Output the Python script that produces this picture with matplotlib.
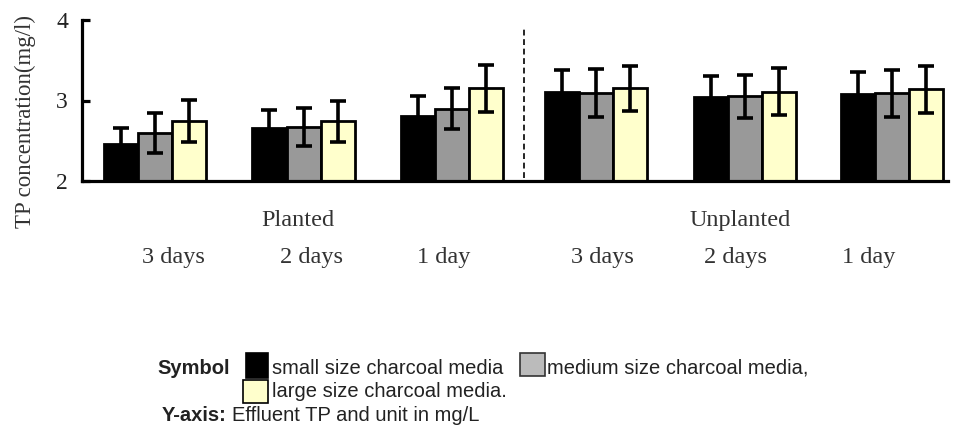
import matplotlib
matplotlib.use("Agg")
import matplotlib.pyplot as plt
from matplotlib.patches import Rectangle

# effluent TP (mg/l) per retention time, planted then unplanted beds
day_labels = ['3 days', '2 days', '1 day', '3 days', '2 days', '1 day']
bed_labels = ['Planted', 'Unplanted']

small = [2.46, 2.66, 2.81, 3.11, 3.04, 3.08]
small_err = [0.20, 0.22, 0.24, 0.27, 0.26, 0.27]
medium = [2.60, 2.67, 2.90, 3.09, 3.05, 3.09]
medium_err = [0.25, 0.24, 0.25, 0.30, 0.27, 0.29]
large = [2.75, 2.74, 3.15, 3.15, 3.11, 3.14]
large_err = [0.26, 0.26, 0.29, 0.28, 0.29, 0.29]

W, H = 958, 429
serif = 'Liberation Serif'
sans = 'Liberation Sans'


def fx(px):
    return px / W


def fy(py):
    return 1 - py / H


fig = plt.figure(figsize=(W / 100, H / 100), dpi=100)
ax = fig.add_axes([fx(82), fy(181), fx(948) - fx(82), fy(20) - fy(181)])

centers = [0, 1, 2, 2.97, 3.97, 4.96]
bw = 0.229
series = [(small, small_err, '#000000'),
          (medium, medium_err, '#999999'),
          (large, large_err, '#FFFFCC')]
for i, (vals, errs, col) in enumerate(series):
    xs = [c + (i - 1) * bw for c in centers]
    ax.bar(xs, vals, width=bw, color=col, edgecolor='black', linewidth=2.0, zorder=2)
    ax.errorbar(xs, vals, yerr=errs, fmt='none', ecolor='black', elinewidth=2.6,
                capsize=5.5, capthick=2.6, zorder=3)

# divider between planted and unplanted beds
ax.axvline(2.485, ymin=0.02, ymax=0.957, color='black', linewidth=1.2,
           dashes=(3.5, 2.2), zorder=1)

ax.set_xlim(-0.4916, 5.34)
ax.set_ylim(2, 4)
ax.set_yticks([2, 3, 4])
ax.set_xticks([])
for s in ['top', 'right']:
    ax.spines[s].set_visible(False)
for s in ['left', 'bottom']:
    ax.spines[s].set_linewidth(2.3)
ax.tick_params(axis='y', direction='in', length=6, width=2.3, pad=10,
               labelsize=17, labelfontfamily=serif, labelcolor='#222222')

fig.text(fx(25), fy(122), 'TP concentration(mg/l)', rotation=90, ha='center',
         va='center', fontsize=16.5, family=serif, color='#333333')

# group and retention-time labels
for txt, px in zip(bed_labels, [298, 740]):
    fig.text(fx(px), fy(226), txt, ha='center', va='baseline', fontsize=17.5,
             family=serif, color='#333333')
for txt, px in zip(day_labels, [173, 312, 444, 602, 735, 869]):
    fig.text(fx(px), fy(263), txt, ha='center', va='baseline', fontsize=17.5,
             family=serif, color='#333333')

# key below the chart
fs = 14.5
fig.text(fx(157), fy(374), 'Symbol', ha='left', va='baseline', fontsize=fs,
         family=sans, weight='bold', color='#222222')
boxes = [(246, 353, 22, 25, '#000000', 'black'),
         (520, 353, 25, 23, '#BBBBBB', '#333333'),
         (243, 380, 25, 23, '#FFFFCC', 'black')]
for x0, y0, w, h, fc, ec in boxes:
    fig.patches.append(Rectangle((fx(x0), fy(y0 + h)), w / W, h / H, facecolor=fc,
                                 edgecolor=ec, linewidth=1.2, transform=fig.transFigure))
fig.text(fx(272), fy(374), 'small size charcoal media', ha='left', va='baseline',
         fontsize=fs, family=sans, color='#222222')
fig.text(fx(547), fy(374), 'medium size charcoal media,', ha='left', va='baseline',
         fontsize=fs, family=sans, color='#222222')
fig.text(fx(272), fy(397), 'large size charcoal media.', ha='left', va='baseline',
         fontsize=fs, family=sans, color='#222222')
fig.text(fx(162), fy(421), 'Y-axis:', ha='left', va='baseline', fontsize=fs,
         family=sans, weight='bold', color='#222222')
fig.text(fx(232), fy(421), 'Effluent TP and unit in mg/L', ha='left', va='baseline',
         fontsize=fs, family=sans, color='#222222')

fig.savefig('out.png', dpi=100)
